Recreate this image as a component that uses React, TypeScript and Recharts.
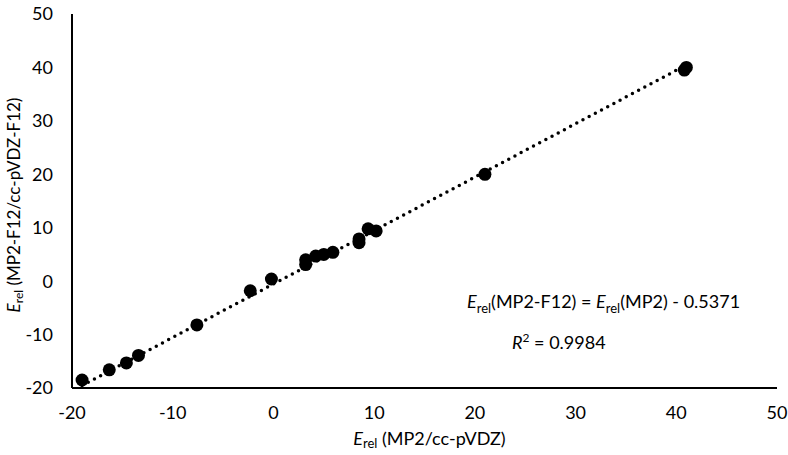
import { ReferenceLine, Scatter, ScatterChart, XAxis, YAxis } from "recharts";

// E_rel (MP2/cc-pVDZ) vs E_rel (MP2-F12/cc-pVDZ-F12)
const mp2 = [-19.0, -16.3, -14.6, -13.4, -7.6, -2.3, -0.2, 3.2, 3.2, 4.2, 5.0, 5.9, 8.5, 8.5, 9.4, 10.2, 21.0, 40.8, 41.0];
const mp2f12 = [-18.5, -16.6, -15.3, -13.9, -8.2, -1.8, 0.4, 3.1, 4.0, 4.7, 5.0, 5.4, 7.2, 7.9, 9.8, 9.4, 20.0, 39.5, 40.0];
const ticks = [-20, -10, 0, 10, 20, 30, 40, 50];

const slope = 1;
const intercept = -0.5371;
const trendFrom = -19;
const trendTo = 41;

const points = mp2.map((x, i) => ({ x, y: mp2f12[i] }));

const font = "Lato, 'Open Sans', sans-serif";
const tickStyle = { fill: "#000", fontSize: 18, fontFamily: font };

const XTitle = ({ viewBox }: any) => {
  const cx = viewBox.x + viewBox.width / 2;
  return (
    <text x={cx + 5} y={445} textAnchor="middle" fontFamily={font} fontSize={18} fill="#000">
      <tspan fontStyle="italic">E</tspan>
      <tspan fontSize={13} dy={3}>rel</tspan>
      <tspan dy={-3}> (MP2/cc-pVDZ)</tspan>
    </text>
  );
};

const YTitle = () => (
  <text
    x={0}
    y={0}
    transform="translate(20, 205) rotate(-90)"
    textAnchor="middle"
    fontFamily={font}
    fontSize={17}
    fill="#000"
  >
    <tspan fontStyle="italic">E</tspan>
    <tspan fontSize={12} dy={3}>rel</tspan>
    <tspan dy={-3}> (MP2-F12/cc-pVDZ-F12)</tspan>
  </text>
);

export default function App() {
  return (
    <div style={{ position: "absolute", left: 0, top: 0, width: 788, height: 455, background: "#fff" }}>
      <ScatterChart width={788} height={455} margin={{ top: 14, right: 11, bottom: 0, left: 0 }}>
        <XAxis
          type="number"
          dataKey="x"
          domain={[-20, 50]}
          ticks={ticks}
          interval={0}
          height={67}
          tickLine={false}
          tickSize={0}
          tickMargin={18}
          tick={tickStyle}
          axisLine={{ stroke: "#000", strokeWidth: 2 }}
          label={<XTitle />}
        />
        <YAxis
          type="number"
          dataKey="y"
          domain={[-20, 50]}
          ticks={ticks}
          interval={0}
          width={72}
          tickLine={false}
          tickSize={0}
          tickMargin={19}
          tick={tickStyle}
          axisLine={{ stroke: "#000", strokeWidth: 2 }}
          label={<YTitle />}
        />
        <ReferenceLine
          segment={[
            { x: trendFrom, y: slope * trendFrom + intercept },
            { x: trendTo, y: slope * trendTo + intercept },
          ]}
          stroke="#000"
          strokeWidth={3.5}
          strokeDasharray="0 7"
          strokeLinecap="round"
        />
        <Scatter
          data={points}
          fill="#000"
          isAnimationActive={false}
          shape={(p: any) => <circle cx={p.cx} cy={p.cy} r={6.5} fill="#000" />}
        />
      </ScatterChart>
      <div
        style={{
          position: "absolute",
          left: 467,
          top: 290,
          fontFamily: font,
          fontSize: 18,
          color: "#000",
          whiteSpace: "nowrap",
        }}
      >
        <i>E</i>
        <sub style={{ fontSize: 13 }}>rel</sub>(MP2-F12) = <i>E</i>
        <sub style={{ fontSize: 13 }}>rel</sub>(MP2) - 0.5371
      </div>
      <div
        style={{
          position: "absolute",
          left: 512,
          top: 330,
          fontFamily: font,
          fontSize: 18,
          color: "#000",
          whiteSpace: "nowrap",
        }}
      >
        <i>R</i>
        <sup style={{ fontSize: 12 }}>2</sup> = 0.9984
      </div>
    </div>
  );
}
